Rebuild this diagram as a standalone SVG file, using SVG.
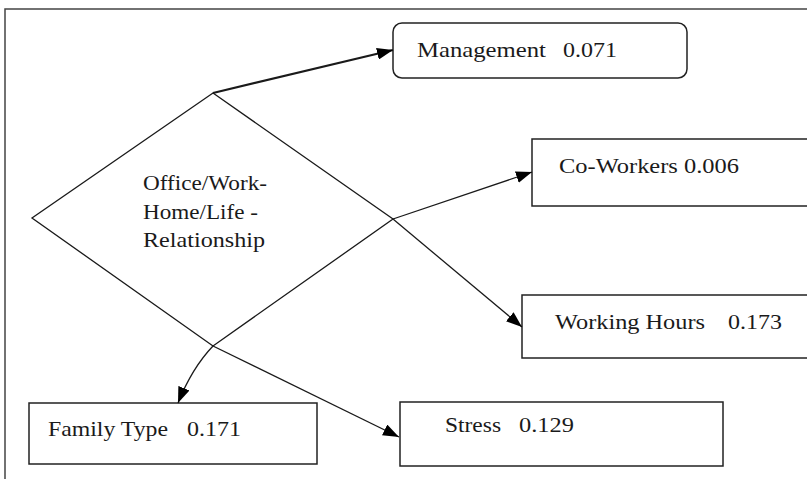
<svg xmlns="http://www.w3.org/2000/svg" width="807" height="479" viewBox="0 0 807 479">
<style>
.box{fill:#fff;stroke:#222;stroke-width:1.5}
text{font-family:'Liberation Serif','DejaVu Serif',serif;font-size:22px;fill:#1a1a1a}
.c{fill:none;stroke:#1a1a1a;stroke-width:1.3}
.c.thick{stroke-width:2.2}
.frame{fill:none;stroke:#444;stroke-width:1.5}
</style>
<defs>
<marker id="ah" viewBox="0 0 16 12" refX="16" refY="6" markerWidth="16" markerHeight="12" markerUnits="userSpaceOnUse" orient="auto">
<path d="M0,0 L16,6 L0,12 Z" fill="#000"/>
</marker>
</defs>
<rect width="807" height="479" fill="#fff"/>
<path class="frame" d="M5,479 V9 H807"/>
<g id="relationship">
<polygon points="213,93 393,219 213,346 32,218" fill="none" stroke="#1a1a1a" stroke-width="1.3"/>
<text x="143" y="190" textLength="124" lengthAdjust="spacingAndGlyphs">Office/Work-</text>
<text x="143" y="219" textLength="115" lengthAdjust="spacingAndGlyphs">Home/Life -</text>
<text x="143" y="247" textLength="122" lengthAdjust="spacingAndGlyphs">Relationship</text>
</g>
<g id="management">
<rect class="box" x="393" y="23" width="294" height="55" rx="9"/>
<text x="417" y="57" textLength="129" lengthAdjust="spacingAndGlyphs">Management</text>
<text x="563" y="57" textLength="54" lengthAdjust="spacingAndGlyphs">0.071</text>
</g>
<g id="coworkers">
<rect class="box" x="532" y="139" width="276" height="67"/>
<text x="559" y="173" textLength="180" lengthAdjust="spacingAndGlyphs">Co-Workers 0.006</text>
</g>
<g id="workinghours">
<rect class="box" x="522" y="295" width="286" height="63"/>
<text x="555" y="329" textLength="150" lengthAdjust="spacingAndGlyphs">Working Hours</text>
<text x="728" y="329" textLength="54" lengthAdjust="spacingAndGlyphs">0.173</text>
</g>
<g id="familytype">
<rect class="box" x="29" y="403" width="288" height="61"/>
<text x="48" y="436" textLength="120" lengthAdjust="spacingAndGlyphs">Family Type</text>
<text x="187" y="436" textLength="54" lengthAdjust="spacingAndGlyphs">0.171</text>
</g>
<g id="stress">
<rect class="box" x="400" y="402" width="323" height="64"/>
<text x="445" y="432" textLength="56" lengthAdjust="spacingAndGlyphs">Stress</text>
<text x="519" y="432" textLength="55" lengthAdjust="spacingAndGlyphs">0.129</text>
</g>
<g id="connectors">
<line class="c thick" x1="213" y1="93" x2="393" y2="50" marker-end="url(#ah)"/>
<line class="c" x1="393" y1="219" x2="532" y2="172" marker-end="url(#ah)"/>
<line class="c" x1="393" y1="219" x2="522" y2="327" marker-end="url(#ah)"/>
<path class="c" d="M213,346 Q192,368 178,403" marker-end="url(#ah)"/>
<line class="c" x1="213" y1="346" x2="399" y2="437" marker-end="url(#ah)"/>
</g>
</svg>
